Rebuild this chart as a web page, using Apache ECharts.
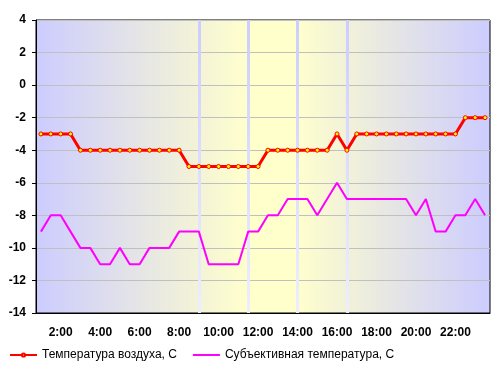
<!DOCTYPE html>
<html>
<head>
<meta charset="utf-8">
<script src="https://cdn.jsdelivr.net/npm/echarts@6/dist/echarts.min.js"></script>
<style>
  html, body { margin: 0; padding: 0; background: #fff; }
  #chart { width: 502px; height: 369px; }
</style>
</head>
<body>
<div id="chart"></div>
<script>
// полчасовые отсчёты с 1:00 до 23:30
var times = [
  '1:00', '1:30', '2:00', '2:30', '3:00', '3:30', '4:00', '4:30', '5:00', '5:30',
  '6:00', '6:30', '7:00', '7:30', '8:00', '8:30', '9:00', '9:30', '10:00', '10:30',
  '11:00', '11:30', '12:00', '12:30', '13:00', '13:30', '14:00', '14:30', '15:00', '15:30',
  '16:00', '16:30', '17:00', '17:30', '18:00', '18:30', '19:00', '19:30', '20:00', '20:30',
  '21:00', '21:30', '22:00', '22:30', '23:00', '23:30'
];
// температура воздуха
var airTemp = [
  -3, -3, -3, -3, -4, -4, -4, -4, -4, -4,
  -4, -4, -4, -4, -4, -5, -5, -5, -5, -5,
  -5, -5, -5, -4, -4, -4, -4, -4, -4, -4,
  -3, -4, -3, -3, -3, -3, -3, -3, -3, -3,
  -3, -3, -3, -2, -2, -2
];
// субъективная температура
var feelTemp = [
  -9, -8, -8, -9, -10, -10, -11, -11, -10, -11,
  -11, -10, -10, -10, -9, -9, -9, -11, -11, -11,
  -11, -9, -9, -8, -8, -7, -7, -7, -8, -7,
  -6, -7, -7, -7, -7, -7, -7, -7, -8, -7,
  -9, -9, -8, -8, -7, -8
];
// вертикальные отметки
var marks = ['9:00', '11:30', '14:00', '16:30'];
var seriesNames = ['Температура воздуха, С', 'Субъективная температура, С'];

var font = '"Liberation Sans", Arial, sans-serif';
var chart = echarts.init(document.getElementById('chart'));

var option = {
  animation: false,
  grid: {
    left: 36,
    right: 12,
    top: 20,
    bottom: 56,
    show: true,
    borderColor: '#000',
    borderWidth: 1,
    backgroundColor: new echarts.graphic.LinearGradient(0, 0, 1, 0, [
      { offset: 0, color: '#ccccff' },
      { offset: 0.465, color: '#ffffcc' },
      { offset: 0.573, color: '#ffffcc' },
      { offset: 1, color: '#ccccff' }
    ])
  },
  legend: {
    data: [
      { name: seriesNames[0] },
      { name: seriesNames[1], itemStyle: { opacity: 0 } }
    ],
    left: 4,
    top: 344,
    itemWidth: 27,
    itemHeight: 4,
    itemGap: 15,
    textStyle: { fontFamily: font, fontSize: 12, color: '#000' }
  },
  xAxis: {
    type: 'category',
    data: times,
    boundaryGap: true,
    axisLine: { onZero: false, lineStyle: { color: '#000', width: 1 } },
    axisTick: {
      length: 4,
      lineStyle: { color: '#000' },
      interval: function (idx) { return idx % 2 === 0; }
    },
    axisLabel: {
      margin: 14,
      fontFamily: font,
      fontSize: 12,
      fontWeight: 'bold',
      color: '#000',
      interval: function (idx) { return idx % 4 === 2; }
    },
    splitLine: { show: false }
  },
  yAxis: {
    type: 'value',
    min: -14,
    max: 4,
    interval: 2,
    axisLine: { show: true, lineStyle: { color: '#000', width: 1 } },
    axisTick: { show: true, length: 4, lineStyle: { color: '#000' } },
    axisLabel: {
      margin: 10,
      fontFamily: font,
      fontSize: 12,
      fontWeight: 'bold',
      color: '#000'
    },
    splitLine: { lineStyle: { color: '#c0c0c0', width: 1 } }
  },
  series: [
    {
      name: 'marks',
      type: 'line',
      data: [],
      z: 1,
      silent: true,
      markLine: {
        z: 1,
        silent: true,
        symbol: 'none',
        label: { show: false },
        lineStyle: {
          type: 'solid',
          width: 3,
          color: new echarts.graphic.LinearGradient(0, 0, 0, 1, [
            { offset: 0, color: '#ccccff' },
            { offset: 1, color: '#eeeeff' }
          ])
        },
        data: marks.map(function (m) { return { xAxis: m }; })
      }
    },
    {
      name: seriesNames[0],
      type: 'line',
      data: airTemp,
      z: 3,
      symbol: 'circle',
      symbolSize: 4,
      showAllSymbol: true,
      lineStyle: { color: '#ff0000', width: 3 },
      itemStyle: { color: '#ffff00', borderColor: '#ff0000', borderWidth: 1 }
    },
    {
      name: seriesNames[1],
      type: 'line',
      data: feelTemp,
      z: 2,
      symbol: 'none',
      lineStyle: { color: '#ff00ff', width: 2 },
      itemStyle: { color: '#ff00ff' }
    }
  ]
};
chart.setOption(option);
</script>
</body>
</html>
